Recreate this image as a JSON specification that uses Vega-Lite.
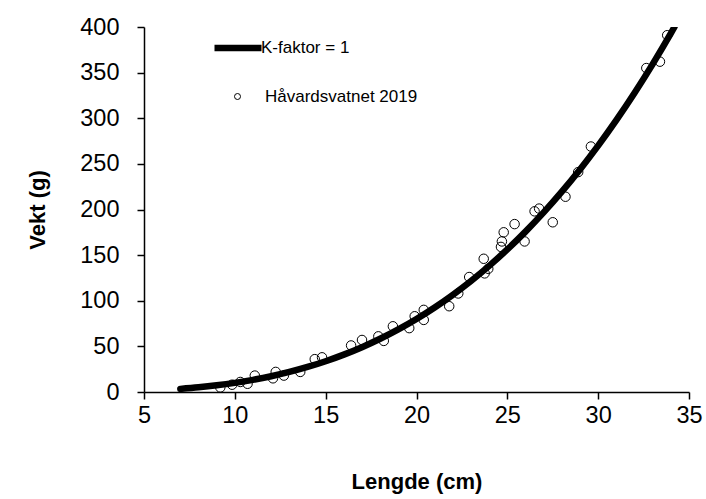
{
  "$schema": "https://vega.github.io/schema/vega-lite/v6.json",
  "width": 545,
  "height": 365,
  "autosize": "none",
  "padding": {"left": 144, "top": 27, "right": 17, "bottom": 107},
  "background": "white",
  "config": {
    "view": {"stroke": null},
    "font": "Liberation Sans",
    "axis": {
      "grid": false,
      "domainColor": "black",
      "domainWidth": 1.5,
      "tickColor": "black",
      "tickWidth": 1.5,
      "tickSize": 7,
      "labelFont": "Liberation Sans",
      "labelFontSize": 23.5,
      "labelColor": "black",
      "titleFont": "Liberation Sans",
      "titleFontSize": 22,
      "titleFontWeight": "bold",
      "titleColor": "black"
    },
    "legend": {
      "orient": "none",
      "padding": 0,
      "labelFont": "Liberation Sans",
      "labelFontSize": 17,
      "labelColor": "black",
      "title": null
    }
  },
  "datasets": {
    "curve": [
      {"lengde": 7, "vekt": 3.43},
      {"lengde": 8, "vekt": 5.12},
      {"lengde": 9, "vekt": 7.29},
      {"lengde": 10, "vekt": 10},
      {"lengde": 11, "vekt": 13.31},
      {"lengde": 12, "vekt": 17.28},
      {"lengde": 13, "vekt": 21.97},
      {"lengde": 14, "vekt": 27.44},
      {"lengde": 15, "vekt": 33.75},
      {"lengde": 16, "vekt": 40.96},
      {"lengde": 17, "vekt": 49.13},
      {"lengde": 18, "vekt": 58.32},
      {"lengde": 19, "vekt": 68.59},
      {"lengde": 20, "vekt": 80},
      {"lengde": 21, "vekt": 92.61},
      {"lengde": 22, "vekt": 106.48},
      {"lengde": 23, "vekt": 121.67},
      {"lengde": 24, "vekt": 138.24},
      {"lengde": 25, "vekt": 156.25},
      {"lengde": 26, "vekt": 175.76},
      {"lengde": 27, "vekt": 196.83},
      {"lengde": 28, "vekt": 219.52},
      {"lengde": 29, "vekt": 243.89},
      {"lengde": 30, "vekt": 270},
      {"lengde": 31, "vekt": 297.91},
      {"lengde": 32, "vekt": 327.68},
      {"lengde": 33, "vekt": 359.37},
      {"lengde": 34, "vekt": 393.04},
      {"lengde": 34.2, "vekt": 400}
    ],
    "fish": [
      {"lengde": 9.2, "vekt": 5},
      {"lengde": 9.85, "vekt": 8},
      {"lengde": 10.3, "vekt": 11},
      {"lengde": 10.7, "vekt": 9},
      {"lengde": 11.1, "vekt": 18},
      {"lengde": 12.1, "vekt": 15},
      {"lengde": 12.25, "vekt": 22},
      {"lengde": 12.7, "vekt": 18},
      {"lengde": 13.6, "vekt": 22},
      {"lengde": 14.4, "vekt": 36},
      {"lengde": 14.8, "vekt": 38},
      {"lengde": 16.4, "vekt": 51},
      {"lengde": 17.0, "vekt": 57},
      {"lengde": 17.9, "vekt": 61},
      {"lengde": 18.2, "vekt": 56},
      {"lengde": 18.7, "vekt": 72},
      {"lengde": 19.6, "vekt": 70},
      {"lengde": 19.9, "vekt": 83},
      {"lengde": 20.4, "vekt": 79},
      {"lengde": 20.4, "vekt": 90},
      {"lengde": 21.8, "vekt": 94},
      {"lengde": 22.3, "vekt": 108},
      {"lengde": 22.9, "vekt": 126},
      {"lengde": 23.7, "vekt": 146},
      {"lengde": 23.75, "vekt": 130},
      {"lengde": 23.95, "vekt": 135},
      {"lengde": 24.65, "vekt": 159},
      {"lengde": 24.7, "vekt": 165},
      {"lengde": 24.8, "vekt": 175},
      {"lengde": 25.4, "vekt": 184},
      {"lengde": 25.95, "vekt": 165},
      {"lengde": 26.5, "vekt": 198},
      {"lengde": 26.75, "vekt": 201},
      {"lengde": 27.5, "vekt": 186},
      {"lengde": 28.2, "vekt": 214},
      {"lengde": 28.9, "vekt": 241},
      {"lengde": 29.6, "vekt": 269},
      {"lengde": 32.65, "vekt": 355},
      {"lengde": 33.4, "vekt": 362},
      {"lengde": 33.8, "vekt": 391}
    ]
  },
  "encoding": {
    "x": {
      "field": "lengde",
      "type": "quantitative",
      "title": "Lengde (cm)",
      "scale": {"domain": [5, 35], "nice": false, "zero": false},
      "axis": {"values": [5, 10, 15, 20, 25, 30, 35], "labelPadding": 4, "titlePadding": 45, "labelFlush": false}
    },
    "y": {
      "field": "vekt",
      "type": "quantitative",
      "title": "Vekt (g)",
      "scale": {"domain": [0, 400], "nice": false},
      "axis": {"values": [0, 50, 100, 150, 200, 250, 300, 350, 400], "labelPadding": 18, "titlePadding": 30, "labelFlush": false}
    }
  },
  "layer": [
    {
      "data": {"name": "curve"},
      "mark": {"type": "line", "strokeWidth": 6.5, "strokeCap": "round", "interpolate": "monotone", "clip": true},
      "encoding": {
        "stroke": {
          "datum": "K-faktor = 1",
          "scale": {"range": ["black"]},
          "legend": {
            "symbolType": "stroke",
            "symbolSize": 2209,
            "symbolStrokeWidth": 6.5,
            "labelOffset": -4,
            "legendX": 67,
            "legendY": -6
          }
        }
      }
    },
    {
      "data": {"name": "fish"},
      "mark": {"type": "point", "filled": false, "color": "black", "strokeWidth": 1, "size": 90, "opacity": 1},
      "encoding": {
        "shape": {
          "datum": "Håvardsvatnet 2019",
          "scale": {"range": ["circle"]},
          "legend": {
            "symbolType": "circle",
            "symbolSize": 36,
            "symbolStrokeColor": "black",
            "symbolFillColor": "transparent",
            "symbolStrokeWidth": 1,
            "labelOffset": 19,
            "legendX": 85,
            "legendY": 61
          }
        }
      }
    }
  ]
}
